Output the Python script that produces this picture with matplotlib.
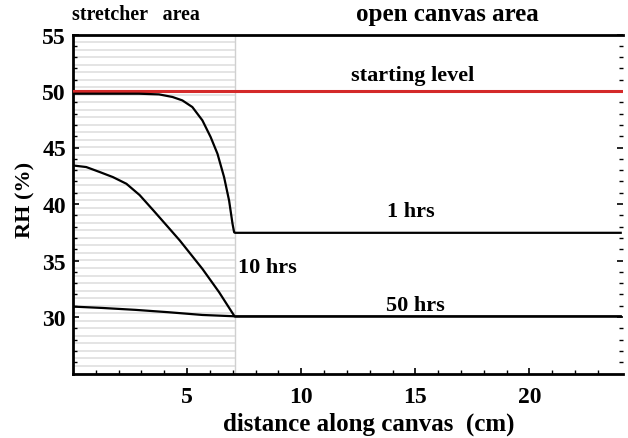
import matplotlib
matplotlib.use("Agg")
import matplotlib.pyplot as plt
import numpy as np

plt.rcParams['font.family'] = ['Liberation Serif', 'DejaVu Serif']
plt.rcParams['font.weight'] = 'bold'

# data
stretcher_edge = 7.1
start_level = 50.0

x_1h = [0, 1, 2, 2.89, 3.77, 4.36, 4.79, 5.23, 5.67, 6.03, 6.33, 6.62, 6.84, 6.99, 7.06, 7.1, 24]
y_1h = [49.76, 49.76, 49.76, 49.76, 49.7, 49.47, 49.17, 48.58, 47.4, 45.93, 44.45, 42.38, 40.3, 38.25, 37.5, 37.45, 37.45]

x_10h = [0, 0.58, 1.17, 1.75, 2.34, 2.92, 3.51, 4.09, 4.68, 5.26, 5.67, 6.4, 7.06, 7.1, 24]
y_10h = [43.41, 43.27, 42.83, 42.38, 41.79, 40.79, 39.46, 38.13, 36.77, 35.3, 34.26, 32.2, 30.12, 30.05, 30.05]

x_50h = [0, 1.29, 2.75, 4.2, 5.67, 7.0, 7.1, 24]
y_50h = [30.92, 30.8, 30.63, 30.42, 30.18, 30.07, 30.05, 30.05]

x_ticks = [5, 10, 15, 20]
y_ticks = [30, 35, 40, 45, 50, 55]

W, H = 628, 439
fig = plt.figure(figsize=(W / 100, H / 100), dpi=100)
ax = fig.add_axes([73 / W, 1 - 374.5 / H, (623 - 73) / W, (374.5 - 35.5) / H])
ax.set_xlim(0, 24.1)
ax.set_ylim(25, 55)

# stretcher texture lines
for yy in np.arange(25, 55.01, 2 / 3):
    ax.plot([0, stretcher_edge], [yy, yy], color='#dcdcdc', lw=1.1, zorder=1)
ax.axvline(stretcher_edge, color='#d0d0d0', lw=1.0, zorder=1)

ax.axhline(start_level, color='#d42a2a', lw=2.2, zorder=3)
for xs, ys in [(x_1h, y_1h), (x_10h, y_10h), (x_50h, y_50h)]:
    ax.plot(xs, ys, color='black', lw=1.6, zorder=4)

for s in ['left', 'top', 'bottom']:
    ax.spines[s].set_linewidth(2.0)
    ax.spines[s].set_color('black')
ax.spines['right'].set_visible(False)

ax.set_xticks(x_ticks)
ax.set_xticks(np.arange(1, 24, 1), minor=True)
ax.set_yticks(y_ticks)
ax.set_yticks(np.arange(26, 55, 1), minor=True)
ax.tick_params(axis='both', which='both', direction='in', labelsize=17)
ax.tick_params(axis='x', which='major', length=4, width=1.2, pad=9)
ax.tick_params(axis='x', which='minor', length=3, width=1.0)
ax.tick_params(axis='y', which='major', length=4, width=1.2, pad=5, right=True)
ax.tick_params(axis='y', which='minor', length=3, width=1.0, right=True)
for lab in ax.get_xticklabels() + ax.get_yticklabels():
    lab.set_fontweight('bold')

ax.text(14.9, 51.4, 'starting level', ha='center', va='center', fontsize=16, fontweight='bold')
ax.text(14.8, 39.4, '1 hrs', ha='center', va='center', fontsize=16, fontweight='bold')
ax.text(7.25, 34.4, '10 hrs', ha='left', va='center', fontsize=16, fontweight='bold')
ax.text(15.0, 31.1, '50 hrs', ha='center', va='center', fontsize=16, fontweight='bold')

fig.text(72 / W, 1 - 15 / H, 'stretcher   area', ha='left', va='center', fontsize=14.4, fontweight='bold')
fig.text(447 / W, 1 - 15 / H, 'open canvas area', ha='center', va='center', fontsize=18, fontweight='bold')
fig.text(369 / W, 1 - 424 / H, 'distance along canvas  (cm)', ha='center', va='center', fontsize=18, fontweight='bold')
fig.text(25 / W, 1 - 200 / H, 'RH (%)', ha='center', va='center', rotation=90, fontsize=16, fontweight='bold')

fig.savefig('out.png', dpi=100)
